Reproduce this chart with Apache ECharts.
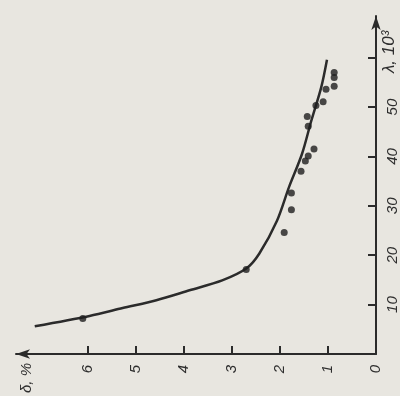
<!DOCTYPE html>
<html>
<head>
<meta charset="utf-8">
<script src="https://cdn.jsdelivr.net/npm/echarts@6/dist/echarts.min.js"></script>
<style>
  html, body { margin: 0; padding: 0; background: #e8e6e0; }
  #chart { width: 400px; height: 396px; }
</style>
</head>
<body>
<div id="chart"></div>
<script>
// Measured points: δ (%) against λ (×10³)
const pointDelta  = [0.87, 0.87, 0.87, 1.04, 1.10, 1.25, 1.43, 1.41, 1.29, 1.41, 1.47, 1.56, 1.76, 1.76, 1.91, 2.70, 6.10];
const pointLambda = [57.0, 56.0, 54.2, 53.6, 51.1, 50.3, 48.1, 46.1, 41.5, 40.1, 39.1, 37.0, 32.6, 29.2, 24.6, 17.1, 7.2];

// Fitted curve
const curveDelta  = [7.10, 5.96, 5.27, 4.57, 3.88, 3.20, 2.70, 2.43, 2.06, 1.81, 1.54, 1.35, 1.14, 1.02];
const curveLambda = [5.6, 7.7, 9.3, 10.9, 12.9, 14.9, 17.3, 20.3, 27.0, 33.8, 40.5, 47.1, 54.0, 59.6];

// Axis ticks
const deltaTicks  = [0, 1, 2, 3, 4, 5, 6];
const lambdaTicks = [10, 20, 30, 40, 50, 60];
const lambdaLabels = [10, 20, 30, 40, 50];

const ink = '#2b2b2b';
const labelFont = { fontFamily: 'Liberation Sans', fontStyle: 'italic', fontSize: 15, color: '#2e2e2e' };

const chart = echarts.init(document.getElementById('chart'), null, { renderer: 'canvas' });
chart.setOption({
  backgroundColor: '#e8e6e0',
  animation: false,
  grid: { left: 16, right: 23, top: 16, bottom: 40 },
  xAxis: {
    type: 'value',
    inverse: true,
    min: 0,
    max: 7.49,
    name: 'δ, %',
    nameLocation: 'end',
    nameGap: -18,
    nameRotate: 90,
    nameTextStyle: Object.assign({}, labelFont, { padding: [0, 48, 0, 0] }),
    axisLine: { lineStyle: { color: ink, width: 2 }, symbol: ['arrow', 'none'], symbolSize: [7, 14] },
    axisTick: { show: true, inside: true, length: 8, lineStyle: { color: ink, width: 2 }, customValues: deltaTicks },
    axisLabel: Object.assign({}, labelFont, { rotate: 90, margin: 11, customValues: deltaTicks }),
    splitLine: { show: false }
  },
  yAxis: {
    type: 'value',
    position: 'right',
    min: 0,
    max: 68.45,
    name: 'λ, 10³',
    nameLocation: 'end',
    nameGap: -57,
    nameRotate: 90,
    nameTextStyle: Object.assign({}, labelFont, { fontSize: 17, verticalAlign: 'top', padding: [5, 0, 0, 0] }),
    axisLine: { lineStyle: { color: ink, width: 2 }, symbol: ['none', 'arrow'], symbolSize: [7, 14] },
    axisTick: { show: true, inside: true, length: 8, lineStyle: { color: ink, width: 2 }, customValues: lambdaTicks },
    axisLabel: Object.assign({}, labelFont, { rotate: 90, margin: 9, customValues: lambdaLabels }),
    splitLine: { show: false }
  },
  series: [
    {
      type: 'line',
      data: curveDelta.map((d, i) => [d, curveLambda[i]]),
      smooth: 0.3,
      showSymbol: false,
      lineStyle: { color: ink, width: 2.5 },
      z: 2
    },
    {
      type: 'scatter',
      data: pointDelta.map((d, i) => [d, pointLambda[i]]),
      symbolSize: 7,
      itemStyle: { color: '#1e1e1e' },
      z: 3
    }
  ]
});
</script>
</body>
</html>
